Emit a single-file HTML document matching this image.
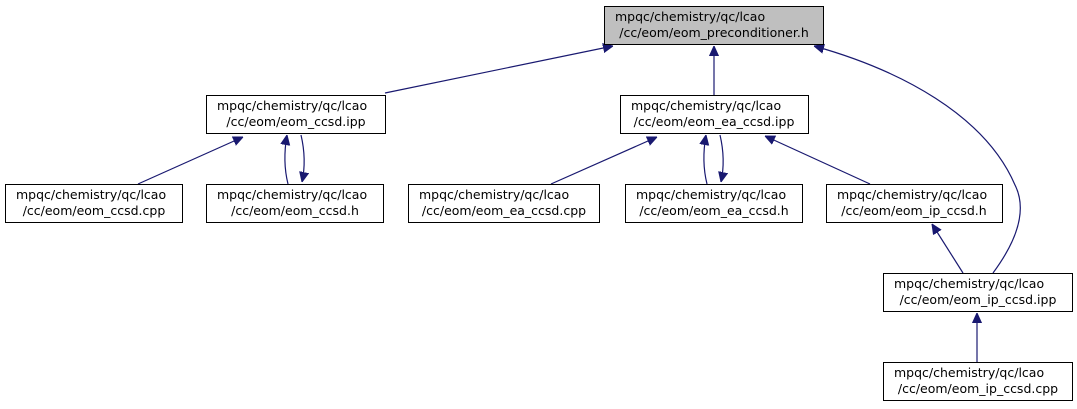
<!DOCTYPE html>
<html><head><meta charset="utf-8"><style>
html,body{margin:0;padding:0;background:#fff;}
svg{display:block;}
text{font-family:"DejaVu Sans","Liberation Sans",sans-serif;font-size:12.5px;fill:#000;}
</style></head><body>
<svg width="1077" height="409" viewBox="0 0 1077 409" xmlns="http://www.w3.org/2000/svg">
<defs>
<marker id="a" viewBox="0 0 10 10" refX="10" refY="5" markerWidth="10" markerHeight="10" markerUnits="userSpaceOnUse" orient="auto">
<path d="M0,0.5 L10,5 L0,9.5 z" fill="#191970" stroke="#191970"/>
</marker>
</defs>
<g fill="none" stroke="#191970" stroke-width="1.2">
<path d="M385,93 L613,46" marker-end="url(#a)"/>
<path d="M714,95 L714,46" marker-end="url(#a)"/>
<path d="M993,273 C1010,250 1030,215 1015,185 C985,115 900,70 814,46" marker-end="url(#a)"/>
<path d="M138,184 L243,137" marker-end="url(#a)"/>
<path d="M288,184 C284,168 284,152 287,135" marker-end="url(#a)"/>
<path d="M301,135 C305,152 305,168 302,182" marker-end="url(#a)"/>
<path d="M551,184 L657,137" marker-end="url(#a)"/>
<path d="M707,184 C703,168 703,152 706,135" marker-end="url(#a)"/>
<path d="M720,135 C724,152 724,168 721,182" marker-end="url(#a)"/>
<path d="M870,184 L765,136" marker-end="url(#a)"/>
<path d="M963,273 L932,224" marker-end="url(#a)"/>
<path d="M977,362 L977,313" marker-end="url(#a)"/>
</g>
<g stroke="#000" stroke-width="1" fill="#fff">
<rect x="604.5" y="6.5" width="219" height="38" fill="#bfbfbf"/>
<rect x="206.5" y="95.5" width="179" height="38"/>
<rect x="620.5" y="95.5" width="188" height="38"/>
<rect x="5.5" y="184.5" width="177" height="38"/>
<rect x="206.5" y="184.5" width="177" height="38"/>
<rect x="408.5" y="184.5" width="191" height="38"/>
<rect x="625.5" y="184.5" width="177" height="38"/>
<rect x="826.5" y="184.5" width="176" height="38"/>
<rect x="883.5" y="273.5" width="189" height="38"/>
<rect x="883.5" y="362.5" width="189" height="38"/>
</g>
<g>
<text x="615" y="21">mpqc/chemistry/qc/lcao</text>
<text x="217" y="110">mpqc/chemistry/qc/lcao</text>
<text x="631" y="110">mpqc/chemistry/qc/lcao</text>
<text x="16" y="199">mpqc/chemistry/qc/lcao</text>
<text x="217" y="199">mpqc/chemistry/qc/lcao</text>
<text x="419" y="199">mpqc/chemistry/qc/lcao</text>
<text x="636" y="199">mpqc/chemistry/qc/lcao</text>
<text x="837" y="199">mpqc/chemistry/qc/lcao</text>
<text x="894" y="288">mpqc/chemistry/qc/lcao</text>
<text x="894" y="377">mpqc/chemistry/qc/lcao</text>
</g>
<g text-anchor="middle">
<text x="714" y="37">/cc/eom/eom_preconditioner.h</text>
<text x="296" y="126">/cc/eom/eom_ccsd.ipp</text>
<text x="714" y="126">/cc/eom/eom_ea_ccsd.ipp</text>
<text x="94" y="215">/cc/eom/eom_ccsd.cpp</text>
<text x="295" y="215">/cc/eom/eom_ccsd.h</text>
<text x="504" y="215">/cc/eom/eom_ea_ccsd.cpp</text>
<text x="714" y="215">/cc/eom/eom_ea_ccsd.h</text>
<text x="914" y="215">/cc/eom/eom_ip_ccsd.h</text>
<text x="978" y="304">/cc/eom/eom_ip_ccsd.ipp</text>
<text x="978" y="393">/cc/eom/eom_ip_ccsd.cpp</text>
</g>
</svg>
</body></html>
